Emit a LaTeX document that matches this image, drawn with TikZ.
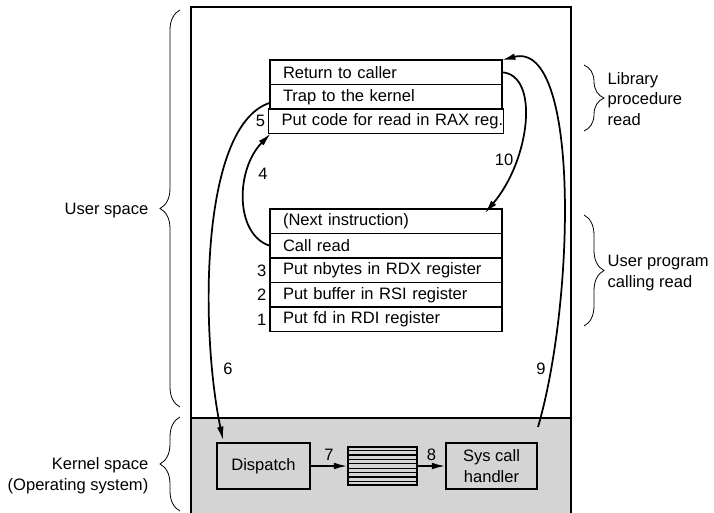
\documentclass[tikz,border=0pt]{standalone}
\usepackage{fontspec}
\setmainfont{Liberation Sans}
\usetikzlibrary{positioning,calc,arrows.meta,decorations.pathreplacing}
\tikzset{>={Latex[length=10pt,width=5pt]}}
\colorlet{kcol}{black!17}
\tikzset{
  frame/.style={line width=1.1pt},
  row/.style={draw,line width=1.1pt,outer sep=0pt,inner xsep=9.75pt,inner ysep=0pt,
    text width=154.5pt,align=left,minimum height=18.4pt,anchor=north west},
  num/.style={inner sep=2.5pt},
  kbox/.style={draw,line width=1.1pt,minimum height=34.5pt,align=center},
  flow/.style={->,line width=1.3pt},
  brc/.style={decorate,decoration={brace,amplitude=15pt},line width=0.6pt},
}

\begin{document}
\begin{tikzpicture}[x=0.75pt,y=-0.75pt,font=\fontsize{12.4}{15.5}\selectfont]
  \useasboundingbox (0,0) rectangle (714,513);
  \def\fl{191}
  \def\fr{571}
  \def\ky{418}

  % FRAME
  \fill[kcol] (\fl,\ky) rectangle (\fr,513);
  \draw[frame] (\fl,513) -- (\fl,7) -- (\fr,7) -- (\fr,513);
  \draw[frame] (\fl,\ky) -- (\fr,\ky);

  % LIBRARY PROCEDURE
  \node[row] (ret) at (270,60) {Return to caller};
  \node[row,below=0pt of ret] (trap) {Trap to the kernel};
  \node[row,below=0pt of trap,text width=156.5pt] (putcode) {\mbox{Put code for read in RAX reg.}};
  \node[num,left=0pt of putcode] (n5) {5};

  % USER PROGRAM
  \node[row] (next) at (270,209) {(Next instruction)};
  \node[row,below=0pt of next] (callread) {Call read};
  \node[row,below=0pt of callread] (nbytes) {Put nbytes in RDX register};
  \node[row,below=0pt of nbytes] (buffer) {Put buffer in RSI register};
  \node[row,below=0pt of buffer] (fd) {Put fd in RDI register};
  \node[num,left=0pt of nbytes] (n3) {3};
  \node[num,left=0pt of buffer] (n2) {2};
  \node[num,left=0pt of fd] (n1) {1};

  % KERNEL
  \node[kbox,minimum width=69.75pt] (disp) at (263.5,466) {Dispatch};
  \node[draw,line width=1.1pt,minimum width=51.75pt,minimum height=28.5pt] (buf) at (382.5,466) {};
  \foreach \i in {1,...,8}
    \draw[line width=0.9pt] ($(buf.north west)!\i/9!(buf.south west)$) -- ($(buf.north east)!\i/9!(buf.south east)$);
  \node[kbox,minimum width=68.25pt] (sys) at (491.5,466) {Sys call\\handler};
  \draw[flow] (disp) -- (buf) node[midway,above] (n7) {7};
  \draw[flow] (buf) -- (sys) node[midway,above] (n8) {8};

  % PATHS
  \coordinate (k6) at (223,440);
  \coordinate (k9) at (538,427);
  \coordinate (u10) at (485,213);
  \draw[flow] (callread.west) .. controls (235,235) and (235,170) .. ([xshift=1.5pt]putcode.south west);
  \draw[flow] ($(trap.west)+(0,6)$) .. controls (200,125) and (200,330) .. (k6);
  \draw[flow] (k9) .. controls (575,300) and (580,40) .. (ret.north east);
  \draw[flow] (ret.east) .. controls (540,75) and (530,160) .. (u10);
  \node (n4) at (263,174) {4};
  \node (n10) at (504,160) {10};
  \node (n6) at (228,369) {6};
  \node (n9) at (541,369) {9};

  % BRACES
  \draw[brc] (180,407) -- (180,10);
  \draw[brc] (180,511) -- (180,417);
  \draw[brc] (584,65) -- (584,131);
  \draw[brc] (584,215) -- (584,326);
  \node[anchor=east] (uspace) at (153,211) {User space};
  \node[anchor=east,align=right] (kspace) at (153,476) {Kernel space\\(Operating system)};
  \node[anchor=west,align=left] (lib) at (603,99) {Library\\procedure\\read};
  \node[anchor=west,align=left] (uprog) at (603,273) {User program\\calling read};
\end{tikzpicture}
\end{document}
